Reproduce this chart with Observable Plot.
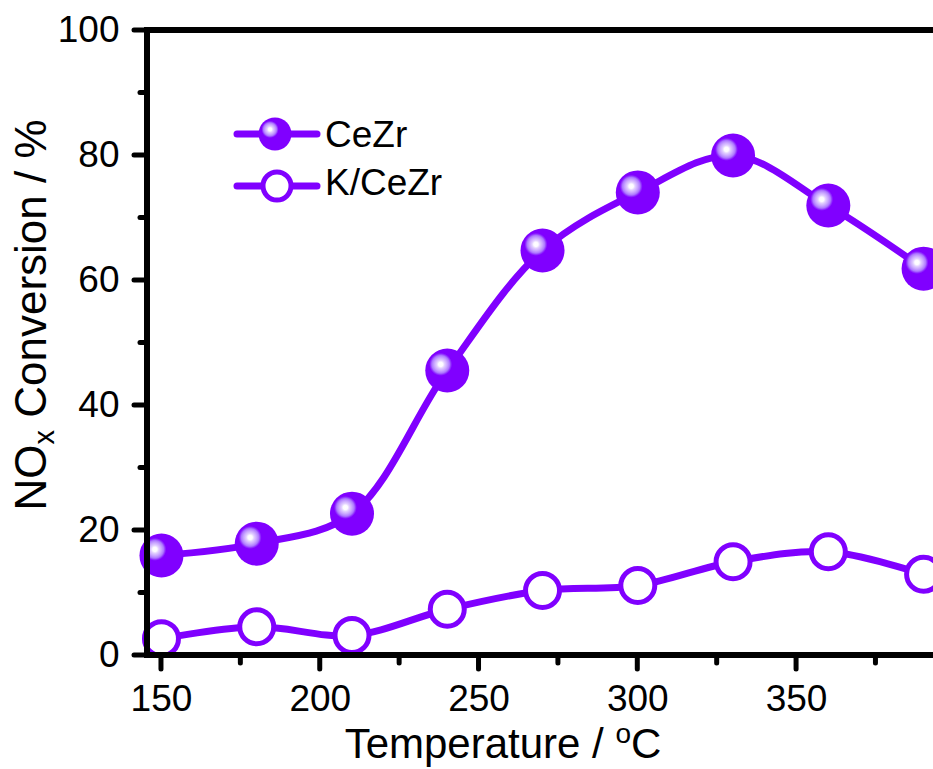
<!DOCTYPE html>
<html><head><meta charset="utf-8">
<script src="https://cdn.jsdelivr.net/npm/d3@7"></script>
<script src="https://cdn.jsdelivr.net/npm/@observablehq/plot@0.6"></script>
<style>
html,body{margin:0;background:#fff;overflow:hidden;}
#wrap{position:relative;width:933px;height:769px;overflow:hidden;}
#wrap svg{max-width:none;}
</style>
</head><body><div id="wrap"></div>
<script>
const temperatures = [150, 180, 210, 240, 270, 300, 330, 360, 390];
const ceZr = [16.0, 17.9, 22.7, 45.6, 64.8, 74.1, 80.0, 72.0, 61.9];
const kCeZr = [2.7, 4.6, 3.2, 7.4, 10.4, 11.2, 15.0, 16.6, 13.0];
const seriesNames = ["CeZr", "K/CeZr"];
const xMajorTicks = [150, 200, 250, 300, 350];
const xMinorTicks = [175, 225, 275, 325, 375];
const yMajorTicks = [0, 20, 40, 60, 80, 100];
const yMinorTicks = [10, 30, 50, 70, 90];

const purple = "#8000ff";
const font = "'Liberation Sans', Arial, Helvetica, sans-serif";

const ceData = temperatures.map((t, i) => ({t, v: ceZr[i], s: seriesNames[0]}));
const kData = temperatures.map((t, i) => ({t, v: kCeZr[i], s: seriesNames[1]}));

// the plot is drawn a little wider than the window; the wrapper crops it at 933 px
const X0 = 145.6, X1 = 396.9;

const plot = Plot.plot({
  width: 945,
  height: 769,
  marginLeft: 147,
  marginTop: 30,
  marginBottom: 114,
  marginRight: 0,
  x: {domain: [X0, X1], axis: null},
  y: {domain: [0, 100], axis: null},
  style: {fontFamily: font, background: "white", color: "black", maxWidth: "none"},
  marks: [
    Plot.line(kData, {x: "t", y: "v", curve: "catmull-rom", stroke: purple, strokeWidth: 7}),
    Plot.line(ceData, {x: "t", y: "v", curve: "catmull-rom", stroke: purple, strokeWidth: 7}),
    Plot.dot(kData, {x: "t", y: "v", r: 17, fill: "white", stroke: purple, strokeWidth: 5}),
    Plot.dot(ceData, {x: "t", y: "v", r: 22, fill: "url(#ballGrad)"}),
    Plot.text(yMajorTicks, {y: d => d, text: d => String(d), frameAnchor: "left", dx: -28, textAnchor: "end", fontSize: 37, fill: "#000"}),
    Plot.text(xMajorTicks, {x: d => d, text: d => String(d), frameAnchor: "bottom", dy: 29, lineAnchor: "top", fontSize: 37, fill: "#000"})
  ]
});

const sx = plot.scale("x"), sy = plot.scale("y");
const svg = d3.select(plot);
const defs = svg.insert("defs", ":first-child");
const grad = defs.append("radialGradient").attr("id", "ballGrad")
  .attr("cx", 0.35).attr("cy", 0.36).attr("fx", 0.35).attr("fy", 0.36).attr("r", 0.5);
[[0, "#ffffff"], [0.1, "#fdfbff"], [0.18, "#e2d0ff"], [0.3, "#c8a4ff"], [0.4, "#ad78ff"], [0.47, "#8f2cff"], [0.52, purple], [1, purple]]
  .forEach(([o, c]) => grad.append("stop").attr("offset", o).attr("stop-color", c));

// axis lines and tick marks, placed through Plot's scales
const axisLeft = sx.apply(X0), axisBottom = sy.apply(0), axisTop = sy.apply(100);
const rightEdge = sx.apply(X1);
const frame = svg.append("g").attr("stroke", "#000").attr("stroke-width", 6);
frame.append("line").attr("x1", axisLeft - 3).attr("x2", rightEdge).attr("y1", axisTop).attr("y2", axisTop);
frame.append("line").attr("x1", axisLeft - 3).attr("x2", rightEdge).attr("y1", axisBottom).attr("y2", axisBottom);
frame.append("line").attr("x1", axisLeft).attr("x2", axisLeft).attr("y1", axisTop - 3).attr("y2", axisBottom + 3);
const tk = svg.append("g").attr("stroke", "#000").attr("stroke-width", 5).attr("stroke-linecap", "round");
yMajorTicks.forEach(v => tk.append("line").attr("x1", axisLeft).attr("x2", axisLeft - 13).attr("y1", sy.apply(v)).attr("y2", sy.apply(v)));
yMinorTicks.forEach(v => tk.append("line").attr("x1", axisLeft).attr("x2", axisLeft - 7).attr("y1", sy.apply(v)).attr("y2", sy.apply(v)));
xMajorTicks.forEach(v => tk.append("line").attr("y1", axisBottom).attr("y2", axisBottom + 14).attr("x1", sx.apply(v)).attr("x2", sx.apply(v)));
xMinorTicks.forEach(v => tk.append("line").attr("y1", axisBottom).attr("y2", axisBottom + 8).attr("x1", sx.apply(v)).attr("x2", sx.apply(v)));

// Axis titles
const yt = svg.append("text").attr("transform", "translate(46,315) rotate(-90)")
  .attr("text-anchor", "middle").attr("font-family", font).attr("font-size", 44).attr("fill", "#000");
yt.append("tspan").text("NO");
yt.append("tspan").attr("font-size", 29).attr("dy", 8).text("x");
yt.append("tspan").attr("dy", -8).text(" Conversion / %");

const xt = svg.append("text").attr("x", 503).attr("y", 758)
  .attr("text-anchor", "middle").attr("font-family", font).attr("font-size", 42).attr("fill", "#000");
xt.append("tspan").text("Temperature / ");
xt.append("tspan").attr("font-size", 28).attr("dy", -15).text("o");
xt.append("tspan").attr("dy", 15).text("C");

// Legend
const lg = svg.append("g").attr("font-family", font).attr("font-size", 37).attr("text-anchor", "start");
const items = [
  {name: seriesNames[0], y: 134, filled: true},
  {name: seriesNames[1], y: 186, filled: false}
];
items.forEach(it => {
  lg.append("line").attr("x1", 237).attr("x2", 317).attr("y1", it.y).attr("y2", it.y)
    .attr("stroke", purple).attr("stroke-width", 7).attr("stroke-linecap", "round");
  if (it.filled) {
    lg.append("circle").attr("cx", 275).attr("cy", it.y).attr("r", 16.5).attr("fill", "url(#ballGrad)");
  } else {
    lg.append("circle").attr("cx", 277).attr("cy", it.y).attr("r", 14).attr("fill", "white")
      .attr("stroke", purple).attr("stroke-width", 5);
  }
  lg.append("text").attr("x", 325).attr("y", it.y + (it.filled ? 13 : 9)).attr("fill", "#000")
    .attr("text-anchor", "start").text(it.name);
});

document.getElementById("wrap").appendChild(plot);
</script>
</body></html>
